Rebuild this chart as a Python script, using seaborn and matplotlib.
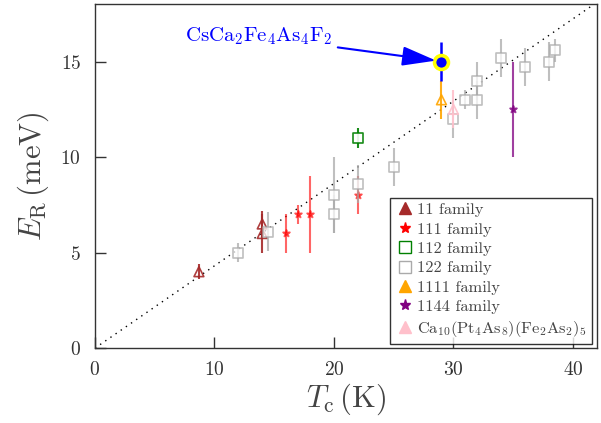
import numpy as np
import pandas as pd
import matplotlib
matplotlib.use('Agg')
import matplotlib.pyplot as plt
from matplotlib.lines import Line2D
import seaborn as sns

# data (Tc in K, E_R in meV, symmetric error)
f11_tc = [8.7, 14.0, 14.0]
f11_er = [4.0, 6.5, 6.0]
f11_err = [0.4, 0.7, 1.0]

f111_tc = [16.0, 17.0, 18.0, 22.0]
f111_er = [6.0, 7.0, 7.0, 8.0]
f111_err = [1.0, 0.5, 2.0, 1.0]

f112_tc = [22.0]
f112_er = [11.0]
f112_err = [0.5]

f122_tc = [12.0, 14.5, 20.0, 20.0, 22.0, 25.0, 30.0, 31.0, 32.0, 32.0, 34.0, 36.0, 38.0, 38.5]
f122_er = [5.0, 6.1, 8.0, 7.0, 8.6, 9.5, 12.0, 13.0, 14.0, 13.0, 15.2, 14.7, 15.0, 15.6]
f122_err = [0.5, 1.0, 2.0, 1.0, 1.0, 1.0, 1.0, 0.5, 1.0, 1.0, 1.0, 1.0, 1.0, 0.6]

f1111_tc = [29.0]
f1111_er = [13.0]
f1111_err = [1.0]

f1144_tc = [35.0]
f1144_er = [12.5]
f1144_err = [2.5]

ca10_tc = [30.0]
ca10_er = [12.5]
ca10_err = [1.0]

cs_tc = [29.0]
cs_er = [15.0]
cs_err = [1.0]

ratio = 5 * 0.08617  # E_R = 5 kB Tc

sns.set_style('ticks')
plt.rcParams['font.family'] = ['cmr10', 'DejaVu Serif']
plt.rcParams['mathtext.fontset'] = 'cm'
plt.rcParams['axes.formatter.use_mathtext'] = True
plt.rcParams['axes.unicode_minus'] = False

fig = plt.figure(figsize=(6.01, 4.23), dpi=100)
ax = fig.add_axes([0.158, 0.177, 0.835, 0.813])

# guide line
tline = np.array([0, 42])
ax.plot(tline, ratio * tline, color='black', linestyle=(0, (1, 3.5)), linewidth=1.0, zorder=1)

# families: (tc, er, err, color, marker, facecolor, size, alpha)
families = [
    (f11_tc, f11_er, f11_err, 'brown', '^', 'none', 50, 0.9),
    (f111_tc, f111_er, f111_err, 'red', '*', 'red', 28, 0.6),
    (f112_tc, f112_er, f112_err, 'green', 's', 'white', 55, 0.9),
    (f122_tc, f122_er, f122_err, '#aaaaaa', 's', 'white', 60, 0.75),
    (f1111_tc, f1111_er, f1111_err, 'orange', '^', 'none', 50, 0.9),
    (f1144_tc, f1144_er, f1144_err, 'purple', '*', 'purple', 28, 0.75),
    (ca10_tc, ca10_er, ca10_err, 'pink', '^', 'none', 50, 0.9),
]

z = 2
for tc, er, err, col, mk, fc, sz, al in families:
    ax.errorbar(tc, er, yerr=err, fmt='none', ecolor=col, elinewidth=1.5, alpha=al, zorder=z)
    df = pd.DataFrame({'Tc': tc, 'ER': er})
    sns.scatterplot(data=df, x='Tc', y='ER', ax=ax, marker=mk, s=sz,
                    facecolor=fc, edgecolor=col, linewidth=1.2, alpha=al, zorder=z + 0.5)
    z += 1

# highlighted compound
ax.errorbar(cs_tc, cs_er, yerr=cs_err, fmt='none', ecolor='blue', elinewidth=1.8, zorder=20)
cs_df = pd.DataFrame({'Tc': cs_tc, 'ER': cs_er})
sns.scatterplot(data=cs_df, x='Tc', y='ER', ax=ax, marker='o', s=100,
                facecolor='blue', edgecolor='yellow', linewidth=2.6, zorder=21)

ax.annotate(r'CsCa$_2$Fe$_4$As$_4$F$_2$', xy=(cs_tc[0] - 0.45, cs_er[0] + 0.05),
            xytext=(7.5, 16.3), color='blue', fontsize=15, va='center', ha='left',
            arrowprops=dict(arrowstyle='-|>,head_length=1.4,head_width=0.4', color='blue', lw=1.5,
                            shrinkA=2, shrinkB=0),
            zorder=22)

ax.set_xlim(0, 42)
ax.set_ylim(0, 18)
ax.set_xticks([0, 10, 20, 30, 40])
ax.set_yticks([0, 5, 10, 15])
ax.tick_params(direction='in', length=8, width=1.0, labelsize=14, colors='#333333', top=False, right=False)
ax.tick_params(axis='x', pad=9)
ax.tick_params(axis='y', pad=10)
for s in ax.spines.values():
    s.set_color('#333333')
    s.set_linewidth(1.0)

ax.set_xlabel(r'$T_{\rm c}\,(\rm K)$', fontsize=22, color='#444444', labelpad=2)
ax.set_ylabel(r'$E_{\rm R}\,(\rm meV)$', fontsize=22, color='#444444', labelpad=7)

handles = [
    Line2D([], [], linestyle='none', marker='^', markersize=9, color='brown'),
    Line2D([], [], linestyle='none', marker='*', markersize=8, color='red'),
    Line2D([], [], linestyle='none', marker='s', markersize=9, markerfacecolor='none', markeredgecolor='green'),
    Line2D([], [], linestyle='none', marker='s', markersize=9, markerfacecolor='none', markeredgecolor='#aaaaaa'),
    Line2D([], [], linestyle='none', marker='^', markersize=9, color='orange'),
    Line2D([], [], linestyle='none', marker='*', markersize=8, color='purple'),
    Line2D([], [], linestyle='none', marker='^', markersize=9, color='pink'),
]
labels = ['11 family', '111 family', '112 family', '122 family', '1111 family', '1144 family',
          r'Ca$_{10}$(Pt$_4$As$_8$)(Fe$_2$As$_2$)$_5$']
leg = ax.legend(handles, labels, loc='lower right', fontsize=11.8, frameon=True, fancybox=False,
                edgecolor='black', handletextpad=0.15, handlelength=1.2, labelspacing=0.3,
                borderpad=0.3, borderaxespad=0.0, bbox_to_anchor=(0.99, 0.012))
leg.get_frame().set_linewidth(1.0)
for t in leg.get_texts():
    t.set_color('#444444')

fig.savefig('out.png', dpi=100)
